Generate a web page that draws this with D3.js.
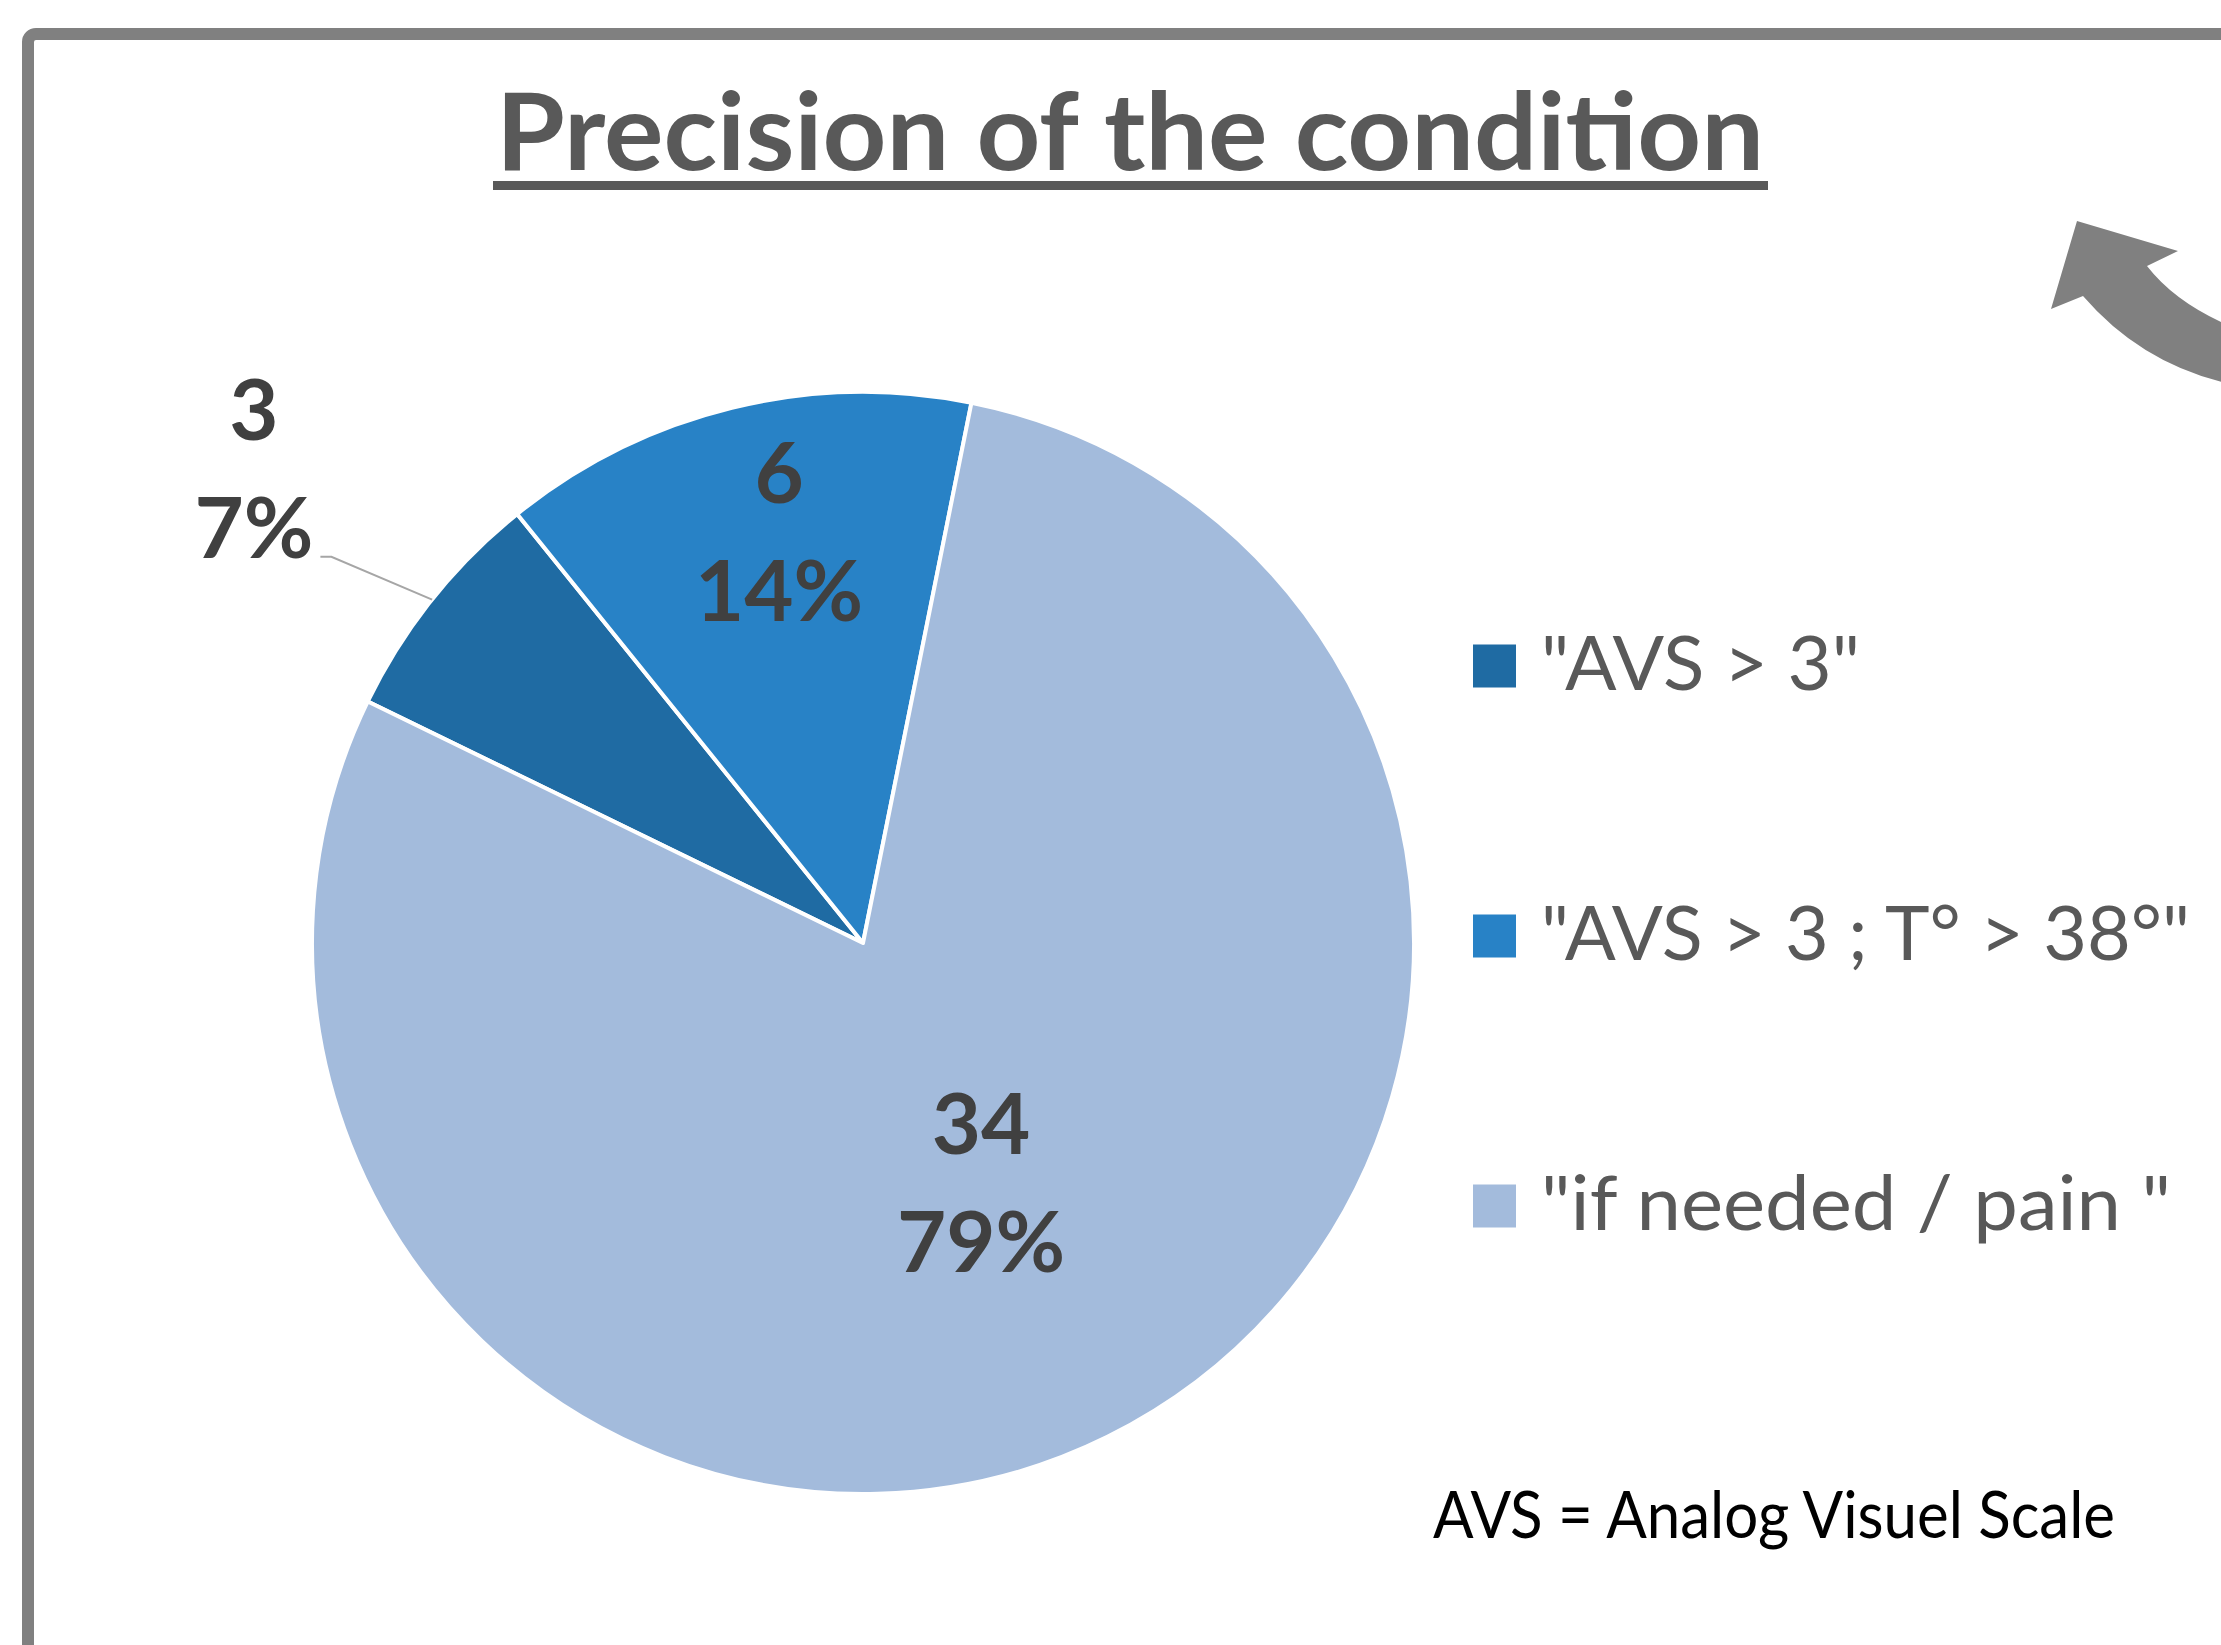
<!DOCTYPE html>
<html><head><meta charset="utf-8">
<script src="https://cdn.jsdelivr.net/npm/d3@7"></script>
<style>html,body{margin:0;padding:0;background:#fff;overflow:hidden}</style>
</head><body>
<svg id="c" width="2221" height="1645"></svg>
<script>
const categories = ['"AVS > 3"', '"AVS > 3 ; T° > 38°"', '"if needed / pain "'];
const values = [3, 6, 34];
const percentLabels = ["7%", "14%", "79%"];
const colors = ["#1F6BA3", "#2882C6", "#A3BBDC"];
const title = "Precision of the condition";
const footnote = "AVS = Analog Visuel Scale";

const W = 2221, H = 1645;
const svg = d3.select("#c");
const font = "Lato, 'Open Sans', sans-serif";

// frame
svg.append("rect").attr("x", 28).attr("y", 34).attr("width", 2600).attr("height", 2000)
  .attr("rx", 8).attr("fill", "none").attr("stroke", "#808080").attr("stroke-width", 12);

// decorative arrow (top right)
svg.append("path")
  .attr("d", "M2077,221 L2178,251 L2147,266 Q2178,306 2240,330 L2240,386 Q2145,368 2083,296 L2051,309 Z")
  .attr("fill", "#808080");

// title
svg.append("text").attr("x", 496).attr("y", 170)
  .attr("font-family", font).attr("font-weight", 700).attr("font-size", 107)
  .attr("fill", "#595959").attr("textLength", 1268).attr("lengthAdjust", "spacingAndGlyphs")
  .text(title);
svg.append("rect").attr("x", 493).attr("y", 181).attr("width", 1275).attr("height", 9).attr("fill", "#595959");

// pie
const cx = 863, cy = 943, R = 551;
const start = 296 * Math.PI / 180;
const pie = d3.pie().sort(null).startAngle(start).endAngle(start + 2 * Math.PI);
const arcs = pie(values);
const arc = d3.arc().innerRadius(0).outerRadius(R);
const g = svg.append("g").attr("transform", `translate(${cx},${cy})`);
g.selectAll("path.s").data(arcs).join("path").attr("class", "s")
  .attr("d", arc).attr("fill", (d, i) => colors[i])
  .attr("stroke", "#fff").attr("stroke-width", 4).attr("stroke-linejoin", "round");

// data labels
const labelRadius = [1.402, 0.763, 0.483];
const labelAngleShift = [-0.6, 2.25, 0];
arcs.forEach((d, i) => {
  const mid = (d.startAngle + d.endAngle) / 2;
  const a = mid + labelAngleShift[i] * Math.PI / 180;
  const r = R * labelRadius[i];
  const x = Math.sin(a) * r, y = -Math.cos(a) * r;
  const lg = g.append("g");
  lg.append("text").attr("x", x).attr("y", y - 28).attr("text-anchor", "middle")
    .attr("font-family", font).attr("font-weight", 700).attr("font-size", 85).attr("fill", "#404040")
    .text(values[i]);
  const p = lg.append("text").attr("x", x).attr("y", y + 90).attr("text-anchor", "middle")
    .attr("font-family", font).attr("font-weight", 700).attr("font-size", 85).attr("fill", "#404040")
    .text(percentLabels[i]);
  if (labelRadius[i] > 1) {
    const bb = p.node().getBBox();
    const x0 = bb.x + bb.width + 7, y0 = y + 89;
    const ex = Math.sin(mid) * R, ey = -Math.cos(mid) * R;
    g.append("polyline").attr("points", `${x0},${y0} ${x0 + 11},${y0} ${ex},${ey}`)
      .attr("fill", "none").attr("stroke", "#A6A6A6").attr("stroke-width", 2);
  }
});

// legend
const ly = d3.scalePoint().domain(categories).range([666, 1206]);
const leg = svg.append("g");
categories.forEach((c, i) => {
  const y = ly(c);
  leg.append("rect").attr("x", 1473).attr("y", y - 21.5).attr("width", 43).attr("height", 43).attr("fill", colors[i]);
  leg.append("text").attr("x", 1541).attr("y", y + 24)
    .attr("font-family", font).attr("font-size", 75).attr("fill", "#595959")
    .attr("textLength", [319, 649, 630][i]).attr("lengthAdjust", "spacingAndGlyphs")
    .style("white-space", "pre").text(c);
});

// footnote
svg.append("text").attr("x", 1433).attr("y", 1538)
  .attr("font-family", font).attr("font-size", 65).attr("fill", "#000")
  .attr("textLength", 682).attr("lengthAdjust", "spacingAndGlyphs").text(footnote);
</script>
</body></html>
